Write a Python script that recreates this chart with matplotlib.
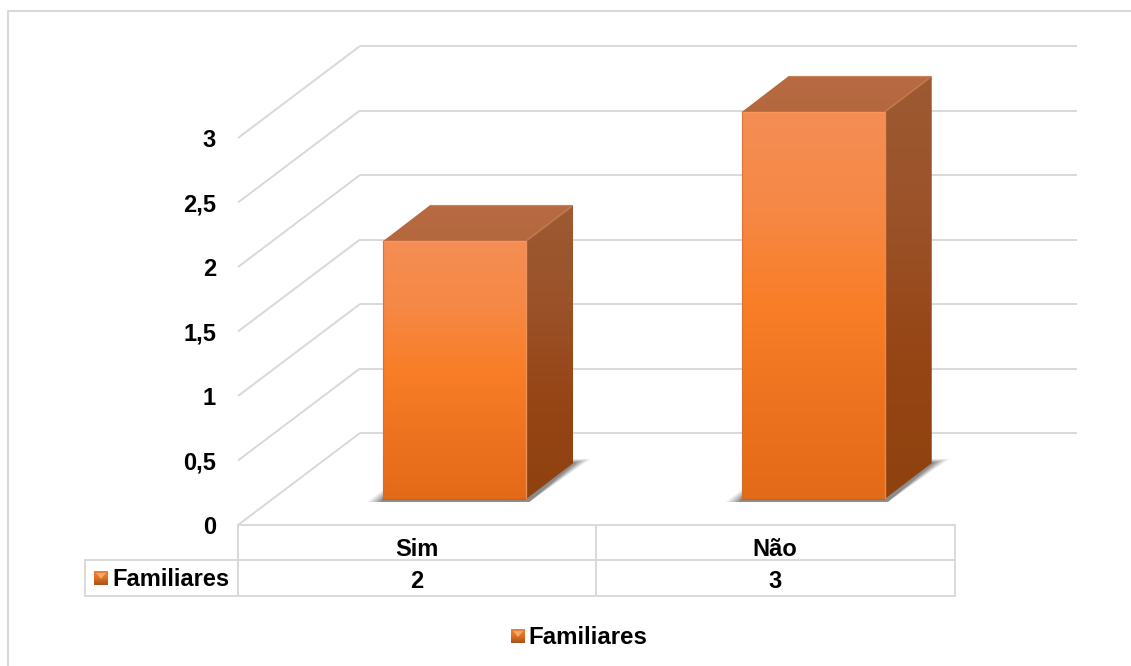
import numpy as np
import matplotlib
matplotlib.use("Agg")
import matplotlib.pyplot as plt
from matplotlib.patches import Polygon
from matplotlib.colors import LinearSegmentedColormap

categories = ["Sim", "Não"]
values = [2, 3]
series_name = "Familiares"
y_ticks = [0, 0.5, 1, 1.5, 2, 2.5, 3]
y_labels = ["0", "0,5", "1", "1,5", "2", "2,5", "3"]

plt.rcParams["font.family"] = ["Liberation Sans", "DejaVu Sans"]
plt.rcParams["font.weight"] = "bold"

W, H = 1131, 666
PX_X = 358.5   # pixels per category
PX_Y = 129.0   # pixels per value unit
X0, Y0 = 238, 525   # pixel position of the origin
GRID = "#d9d9d9"

fig = plt.figure(figsize=(W / 100, H / 100), dpi=100)
ax = fig.add_axes([0, 0, 1, 1])
ax.set_facecolor("white")


def dx(p):
    return p / PX_X


def dy(p):
    return p / PX_Y


def px(x):
    return (x - X0) / PX_X


def py(y):
    return (Y0 - y) / PX_Y


cm_front = LinearSegmentedColormap.from_list("front", ["#f48e55", "#f68845", "#f97e27", "#ee7320", "#e36a18"])
cm_side = LinearSegmentedColormap.from_list("side", ["#9d5a33", "#9b5229", "#964515", "#8e420e"])
cm_top = LinearSegmentedColormap.from_list("top", ["#b86b42", "#b4683e"])
cm_icon = LinearSegmentedColormap.from_list("icon", ["#e9833f", "#e0701f", "#a4521c"])


def gradient(cmap, poly, zorder):
    xs = [p[0] for p in poly]
    ys = [p[1] for p in poly]
    g = np.linspace(0, 1, 256).reshape(-1, 1)
    im = ax.imshow(g, cmap=cmap, vmin=0, vmax=1, aspect="auto", zorder=zorder,
                   extent=[min(xs), max(xs), min(ys), max(ys)])
    patch = Polygon(poly, closed=True, transform=ax.transData, fc="none", ec="none")
    ax.add_patch(patch)
    im.set_clip_path(patch)


# back wall and left wall
wall_x, wall_y = dx(122), dy(92)
for t in y_ticks:
    ax.plot([0, wall_x], [t, t + wall_y], color=GRID, lw=1.4, zorder=1, solid_capstyle="butt")
    ax.plot([wall_x, wall_x + len(categories)], [t + wall_y, t + wall_y], color=GRID, lw=1.4, zorder=1,
            solid_capstyle="butt")

# bars
bar_w = dx(143)
off_x, off_y = dx(37.5), dy(26)
depth_x, depth_y = dx(47), dy(36)
for i, v in enumerate(values):
    left = i + 0.5 - bar_w / 2 + off_x
    right = left + bar_w
    base = off_y
    top = v + off_y

    # soft shadow on the floor
    for grow, alpha in [(1.0, 0.10), (0.8, 0.14), (0.6, 0.18), (0.4, 0.22), (0.2, 0.26)]:
        shadow = [(left - dx(16 * grow), base - dy(3)), (left, base + dy(9 * grow)), (right, base + dy(9 * grow)),
                  (right + depth_x, base + depth_y + dy(4 * grow)),
                  (right + depth_x + dx(17 * grow), base + depth_y + dy(4 * grow)),
                  (right + dx(3), base - dy(3))]
        ax.add_patch(Polygon(shadow, closed=True, fc="#4d4d4d", ec="none", alpha=alpha, zorder=2))

    front = [(left, base), (right, base), (right, top), (left, top)]
    side = [(right, base), (right + depth_x, base + depth_y), (right + depth_x, top + depth_y), (right, top)]
    lid = [(left, top), (right, top), (right + depth_x, top + depth_y), (left + depth_x, top + depth_y)]
    gradient(cm_side, side, 3)
    gradient(cm_top, lid, 3)
    gradient(cm_front, front, 4)
    # bevel highlights
    ax.plot([left, right, right], [top, top, base], color="#fb9a5c", lw=1.0, alpha=0.8, zorder=5)
    ax.plot([left, left], [top, base], color="#c8703a", lw=0.9, alpha=0.7, zorder=5)
    ax.plot([left, right], [base, base], color="#a85a20", lw=0.9, alpha=0.6, zorder=5)
    ax.plot([left + depth_x, right + depth_x - dx(2)], [top + depth_y, top + depth_y], color="#cf875f", lw=0.9,
            alpha=0.8, zorder=5, solid_capstyle="butt")
    ax.plot([right + dx(1), right + depth_x - dx(2)], [top + dy(1), top + depth_y - dy(2)], color="#c77a4c", lw=1.4,
            alpha=0.6, zorder=5, solid_capstyle="butt")

# data table
row1, row2 = py(560), py(596)
key_left = px(85)
ax.plot([0, len(categories)], [0, 0], color=GRID, lw=1.4, zorder=1)
ax.plot([key_left, len(categories)], [row1, row1], color=GRID, lw=1.4, zorder=1)
ax.plot([key_left, len(categories)], [row2, row2], color=GRID, lw=1.4, zorder=1)
ax.plot([key_left, key_left], [row1, row2], color=GRID, lw=1.4, zorder=1)
for i in range(len(categories) + 1):
    ax.plot([i, i], [0, row2], color=GRID, lw=1.4, zorder=1)
for i, (c, v) in enumerate(zip(categories, values)):
    ax.text(i + 0.5 - dx(0.5), py(549.5), c, ha="center", va="center", fontsize=17, color="black")
    ax.text(i + 0.5 - dx(0.5), py(581.5), str(v), ha="center", va="center", fontsize=17, color="black")


def icon(xp, yp):
    s = 14
    sq = [(px(xp), py(yp + s)), (px(xp + s), py(yp + s)), (px(xp + s), py(yp)), (px(xp), py(yp))]
    gradient(cm_icon, sq, 6)
    ax.add_patch(Polygon([(px(xp + 2), py(yp + 2)), (px(xp + s - 2), py(yp + 2)), (px(xp + s / 2), py(yp + 8))],
                         closed=True, fc="#f6a765", ec="none", zorder=7))


icon(94, 571)
ax.text(px(112), py(579.5), series_name, ha="left", va="center", fontsize=17, color="black")
icon(511, 629)
ax.text(px(528.5), py(637), series_name, ha="left", va="center", fontsize=17.3, color="black")

# y axis labels
for t, lab in zip(y_ticks, y_labels):
    ax.text(px(216), t - dy(2.5), lab, ha="right", va="center", fontsize=17, color="black")

# chart border, only top and left show in the crop
ax.plot([px(8), px(8), px(W)], [py(H), py(11), py(11)], color=GRID, lw=1.5, zorder=1)

ax.set_xlim(px(0), px(W))
ax.set_ylim(py(H), py(0))
ax.axis("off")
fig.savefig("out.png", dpi=100)
